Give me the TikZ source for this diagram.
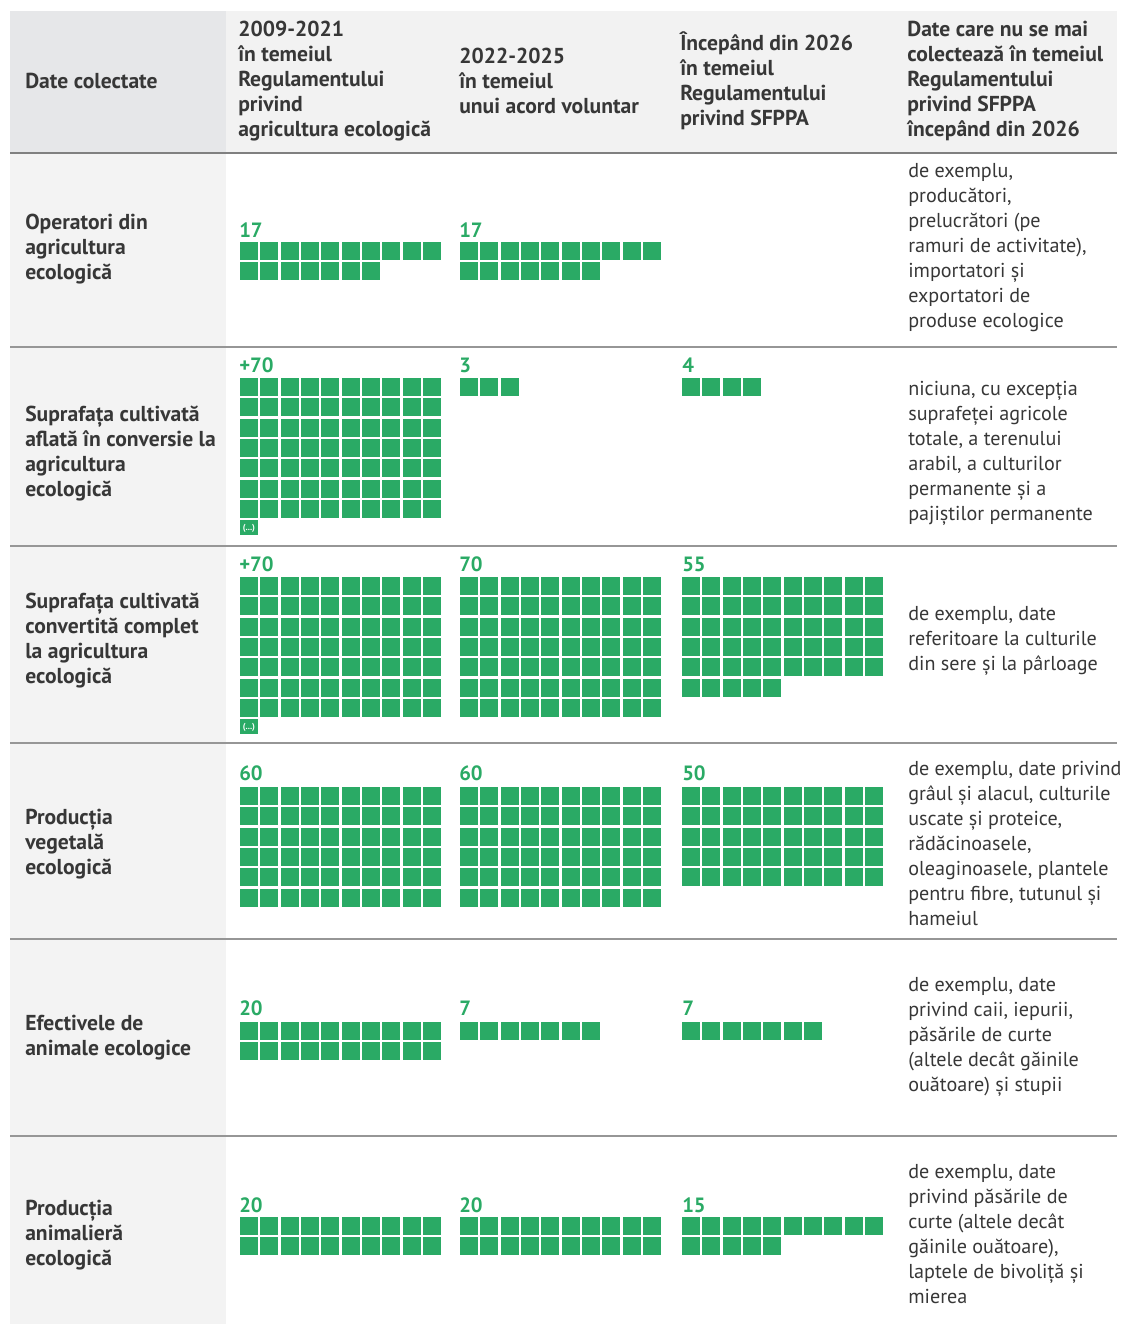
\documentclass[tikz,border=0pt]{standalone}
\usepackage{fontspec}
\setmainfont{PT Sans}
\definecolor{ink}{RGB}{55,55,55}
\definecolor{leaf}{RGB}{42,170,101}
\definecolor{headA}{RGB}{230,231,233}
\definecolor{headB}{RGB}{242,242,242}
\definecolor{sidebg}{RGB}{243,243,243}
\definecolor{rule}{RGB}{150,150,150}
\begin{document}
\begin{tikzpicture}[x=0.75pt,y=-0.75pt,
    rowlab/.style={anchor=west,align=left,inner sep=0,text=ink,font=\bfseries\fontsize{16.2}{18.75}\selectfont},
    note/.style={anchor=west,align=left,inner sep=0,text=ink,font=\fontsize{15.1}{18.75}\selectfont},
    num/.style={anchor=west,inner sep=0,text=leaf,font=\bfseries\fontsize{15.5}{15}\selectfont},
    sq/.style={fill=leaf}]
    \useasboundingbox (0,0) rectangle (1129,1324);
    \def\waffle#1#2#3{
        \foreach \k in {1,...,#3}{
            \pgfmathtruncatemacro\cc{mod(\k-1,10)}
            \pgfmathtruncatemacro\rr{div(\k-1,10)}
            \fill[sq] (#1+\cc*20.35,#2+\rr*20.35) rectangle ++(17.8,17.8);
        }
    }
    \def\more#1#2{
        \fill[sq] (#1,#2+7*20.35) rectangle ++(17.8,15)
            node[midway,text=white,inner sep=0,font=\bfseries\fontsize{6.5}{6.5}\selectfont] {(...)};
    }

    \fill[headB] (10,11) rectangle (1117,153);
    \fill[headA] (10,11) rectangle (226,153);
    \fill[sidebg] (10,153) rectangle (226,1324);
    \draw[rule!85!black,line width=1.5pt] (10,153) -- (1117,153);
    \foreach \y in {347,546,743,939,1136}
        \draw[rule,line width=1.1pt] (10,\y) -- (1117,\y);

    \node[rowlab] (hdrdate) at (25,81) {Date colectate};
    \node[rowlab] (hdrold) at (238,81) {2009-2021\\în temeiul\\Regulamentului\\privind\\agricultura ecologică};
    \node[rowlab] (hdrvol) at (459,81) {2022-2025\\în temeiul\\unui acord voluntar};
    \node[rowlab] (hdrnew) at (680,80.5) {Începând din 2026\\în temeiul\\Regulamentului\\privind SFPPA};
    \node[rowlab] (hdrgone) at (907,81) {Date care nu se mai\\colectează în temeiul\\Regulamentului\\privind SFPPA\\începând din 2026};

    \node[rowlab] (operatori) at (25,249) {Operatori din\\agricultura\\ecologică};
    \node[rowlab] (conversie) at (25,453.5) {Suprafața cultivată\\aflată în conversie la\\agricultura\\ecologică};
    \node[rowlab] (convertita) at (25,640.5) {Suprafața cultivată\\convertită complet\\la agricultura\\ecologică};
    \node[rowlab] (vegetala) at (25,844) {Producția\\vegetală\\ecologică};
    \node[rowlab] (efective) at (25,1037.5) {Efectivele de\\animale ecologice};
    \node[rowlab] (animaliera) at (25,1235) {Producția\\animalieră\\ecologică};

    \node[num] (opold) at (239,230) {17};
    \node[num] (opvol) at (459,230) {17};
    \waffle{240}{242}{17}
    \waffle{460}{242}{17}

    \node[num] (cvold) at (239,365) {+70};
    \node[num] (cvvol) at (459,365) {3};
    \node[num] (cvnew) at (682,365) {4};
    \waffle{240}{378}{70}
    \more{240}{378}
    \waffle{460}{378}{3}
    \waffle{682}{378}{4}

    \node[num] (ctold) at (239,564) {+70};
    \node[num] (ctvol) at (459,564) {70};
    \node[num] (ctnew) at (682,564) {55};
    \waffle{240}{577}{70}
    \more{240}{577}
    \waffle{460}{577}{70}
    \waffle{682}{577}{55}

    \node[num] (vgold) at (239,773) {60};
    \node[num] (vgvol) at (459,773) {60};
    \node[num] (vgnew) at (682,773) {50};
    \waffle{240}{787}{60}
    \waffle{460}{787}{60}
    \waffle{682}{787}{50}

    \node[num] (efold) at (239,1008) {20};
    \node[num] (efvol) at (459,1008) {7};
    \node[num] (efnew) at (682,1008) {7};
    \waffle{240}{1022}{20}
    \waffle{460}{1022}{7}
    \waffle{682}{1022}{7}

    \node[num] (anold) at (239,1205) {20};
    \node[num] (anvol) at (459,1205) {20};
    \node[num] (annew) at (682,1205) {15};
    \waffle{240}{1217}{20}
    \waffle{460}{1217}{20}
    \waffle{682}{1217}{15}

    \node[note] (opnote) at (908,248) {de exemplu,\\producători,\\prelucrători (pe\\ramuri de activitate),\\importatori și\\exportatori de\\produse ecologice};
    \node[note] (cvnote) at (908,453.5) {niciuna, cu excepția\\suprafeței agricole\\totale, a terenului\\arabil, a culturilor\\permanente și a\\pajiștilor permanente};
    \node[note] (ctnote) at (908,641) {de exemplu, date\\referitoare la culturile\\din sere și la pârloage};
    \node[note] (vgnote) at (908,843.5) {de exemplu, date privind\\grâul și alacul, culturile\\uscate și proteice,\\rădăcinoasele,\\oleaginoasele, plantele\\pentru fibre, tutunul și\\hameiul};
    \node[note] (efnote) at (908,1037) {de exemplu, date\\privind caii, iepurii,\\păsările de curte\\(altele decât găinile\\ouătoare) și stupii};
    \node[note] (annote) at (908,1234.5) {de exemplu, date\\privind păsările de\\curte (altele decât\\găinile ouătoare),\\laptele de bivoliță și\\mierea};
\end{tikzpicture}
\end{document}
